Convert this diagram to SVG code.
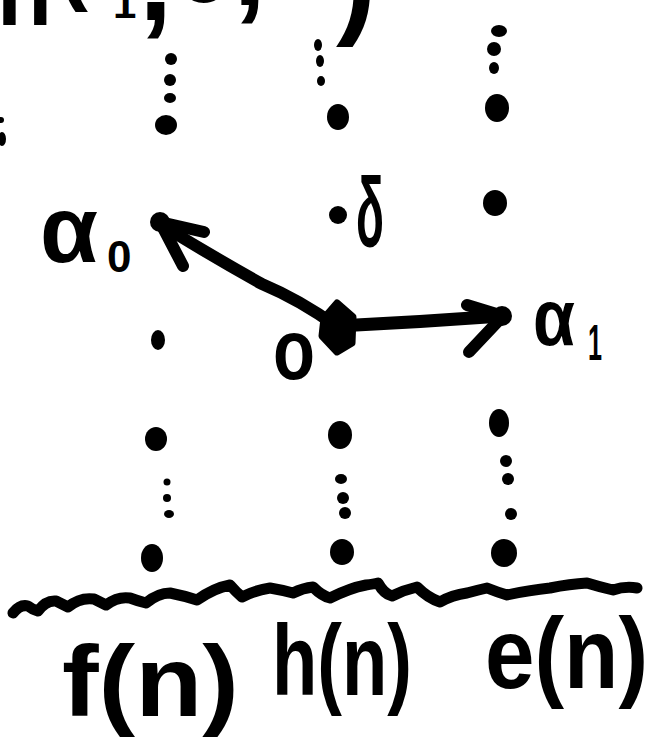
<svg xmlns="http://www.w3.org/2000/svg" width="652" height="747" viewBox="0 0 652 747">
<style>
  .ink { fill: #000; }
  .lbl { font-family: "Liberation Sans", Arial, sans-serif; font-weight: bold; fill: #000; }
  .stroke { fill: none; stroke: #000; stroke-linecap: round; stroke-linejoin: round; }
</style>
<rect x="0" y="0" width="652" height="747" fill="#fff"/>

<!-- clipped heading fragment -->
<g id="heading" class="lbl">
  <text font-size="90"><tspan x="-3" y="25">n</tspan><tspan x="58" y="-7">(</tspan><tspan x="90" y="-30">e</tspan><tspan x="113" y="18" font-size="42">1</tspan><tspan x="139" y="20" font-size="120">,</tspan><tspan x="178" y="2">e</tspan><tspan x="233" y="5" font-size="120">,</tspan><tspan x="336" y="22" font-size="120">)</tspan></text>
</g>

<!-- left-edge marks -->
<g id="edge-marks" class="ink">
  <ellipse cx="1" cy="120" rx="3" ry="3"/>
  <ellipse cx="2" cy="139" rx="4" ry="7"/>
</g>

<!-- column f(n) -->
<g id="col-f" class="ink">
  <ellipse cx="171" cy="59" rx="6" ry="6"/>
  <ellipse cx="170" cy="80" rx="6" ry="6"/>
  <ellipse cx="170" cy="98" rx="6" ry="5"/>
  <ellipse cx="166" cy="125" rx="11" ry="10"/>
  <ellipse cx="158" cy="340" rx="7" ry="10"/>
  <ellipse cx="156" cy="439" rx="11" ry="12"/>
  <ellipse cx="167" cy="482" rx="3.5" ry="3.5"/>
  <ellipse cx="167" cy="498" rx="4" ry="4"/>
  <ellipse cx="169" cy="514" rx="5" ry="4"/>
  <ellipse cx="152" cy="558" rx="11" ry="14"/>
</g>

<!-- column h(n) -->
<g id="col-h" class="ink">
  <ellipse cx="318" cy="45" rx="4" ry="6"/>
  <ellipse cx="320" cy="61" rx="4" ry="6"/>
  <ellipse cx="321" cy="81" rx="4" ry="5"/>
  <ellipse cx="338" cy="117" rx="11" ry="13"/>
  <ellipse cx="338" cy="215" rx="9" ry="9"/>
  <ellipse cx="340" cy="435" rx="12" ry="14"/>
  <ellipse cx="341" cy="479" rx="6" ry="5"/>
  <ellipse cx="343" cy="498" rx="6" ry="6"/>
  <ellipse cx="345" cy="513" rx="6" ry="6"/>
  <ellipse cx="342" cy="552" rx="12" ry="13"/>
</g>

<!-- column e(n) -->
<g id="col-e" class="ink">
  <ellipse cx="499" cy="31" rx="8" ry="6"/>
  <ellipse cx="494" cy="49" rx="7" ry="7"/>
  <ellipse cx="494" cy="68" rx="5" ry="6"/>
  <ellipse cx="497" cy="108" rx="12" ry="14"/>
  <ellipse cx="495" cy="203" rx="12" ry="13"/>
  <ellipse cx="499" cy="423" rx="10" ry="14"/>
  <ellipse cx="506" cy="461" rx="6" ry="6"/>
  <ellipse cx="508" cy="479" rx="6" ry="6"/>
  <ellipse cx="511" cy="514" rx="6" ry="6"/>
  <ellipse cx="504" cy="553" rx="13" ry="14"/>
</g>

<!-- connectors -->
<g id="connectors" class="stroke">
  <path d="M336,326 Q300,300 262,284 Q210,255 160,224" stroke-width="12"/>
  <path d="M204,232 L160,222 L183,266" stroke-width="12"/>
  <path d="M338,326 Q420,322 502,316" stroke-width="13"/>
  <path d="M467,305 L503,316 L469,352" stroke-width="12"/>
  <circle cx="160" cy="222" r="10" fill="#000" stroke="none"/>
  <circle cx="502" cy="316" r="10" fill="#000" stroke="none"/>
</g>

<!-- centre node -->
<g id="center" class="ink">
  <path d="M337,303 L353,317 L352,343 L337,352 L322,336 L324,318 Z" stroke="#000" stroke-width="7" stroke-linejoin="round"/>
</g>

<!-- labels -->
<g id="labels" class="lbl">
  <text id="lbl-alpha0" x="40" y="262" font-size="95" textLength="58" lengthAdjust="spacingAndGlyphs">α</text>
  <text x="107" y="272" font-size="44">0</text>
  <text id="lbl-alpha1" x="533" y="345" font-size="80" textLength="42" lengthAdjust="spacingAndGlyphs">α</text>
  <text x="588" y="360" font-size="50" textLength="14" lengthAdjust="spacingAndGlyphs">1</text>
  <text id="lbl-delta" x="356" y="246" font-size="98" textLength="28" lengthAdjust="spacingAndGlyphs">δ</text>
  <text id="lbl-o" x="273" y="379" font-size="85" textLength="42" lengthAdjust="spacingAndGlyphs">o</text>
</g>

<!-- baseline wave -->
<g id="wave" class="stroke">
  <path stroke-width="11" d="M13,613 Q20,604 28,606 Q33,610 38,611 Q46,600 56,601 Q62,604 68,607 Q80,597 94,599 Q100,602 106,605 Q118,596 130,598 Q138,601 146,603 Q158,593 170,593 Q185,596 197,600 Q214,588 230,585 Q236,592 242,597 Q256,590 270,588 Q282,590 293,593 Q303,588 313,587 Q322,596 330,598 Q350,588 366,585 Q374,584 378,583 Q384,594 392,596 Q404,590 417,587 Q428,598 440,602 Q452,595 467,593 Q478,590 487,588 Q497,592 507,595 Q530,590 550,588 Q570,584 587,583 Q600,587 613,590 Q625,586 637,588"/>
</g>

<!-- axis labels -->
<g id="axis-labels" class="lbl">
  <text id="lbl-f" x="62" y="716" font-size="100" textLength="177" lengthAdjust="spacingAndGlyphs">f(n)</text>
  <text id="lbl-h" x="272" y="695" font-size="100" textLength="140" lengthAdjust="spacingAndGlyphs">h(n)</text>
  <text id="lbl-e" x="485" y="688" font-size="100" textLength="163" lengthAdjust="spacingAndGlyphs">e(n)</text>
</g>
</svg>
